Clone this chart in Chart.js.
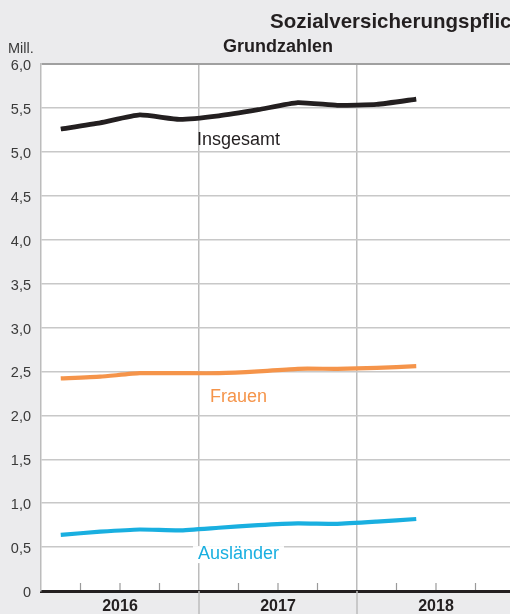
<!DOCTYPE html>
<html>
<head>
<meta charset="utf-8">
<script src="https://cdn.jsdelivr.net/npm/chart.js@4/dist/chart.umd.min.js"></script>
<style>
  html, body { margin: 0; padding: 0; background: #ebebed; overflow: hidden; }
  #wrap { width: 530px; height: 614px; }
</style>
</head>
<body>
<div id="wrap"><canvas id="ChartElem"></canvas></div>
<script>
// quarters shown on the x axis (2016 Q1 .. 2018 Q4), data up to 2018 Q2
var quarters = ['2016 Q1', '2016 Q2', '2016 Q3', '2016 Q4',
                '2017 Q1', '2017 Q2', '2017 Q3', '2017 Q4',
                '2018 Q1', '2018 Q2', '2018 Q3', '2018 Q4'];
var years = ['2016', '2017', '2018'];

// Mill.
var insgesamt  = [5.26, 5.33, 5.42, 5.37, 5.41, 5.48, 5.56, 5.53, 5.54, 5.60];
var frauen     = [2.42, 2.44, 2.48, 2.48, 2.48, 2.50, 2.53, 2.53, 2.54, 2.56];
var auslaender = [0.64, 0.675, 0.70, 0.69, 0.72, 0.75, 0.77, 0.765, 0.79, 0.82];

var seriesNames  = ['Insgesamt', 'Frauen', 'Ausländer'];
var seriesColors = ['#231f20', '#f5944a', '#19afe0'];
// where the series names sit (x in quarters, y in Mill.)
var nameX = [5.0, 5.0, 5.0];
var nameY = [5.13, 2.21, 0.42];

var FONT = '"Liberation Sans", Arial, Helvetica, sans-serif';

function toPoints(values) {
    var pts = [];
    for (let i = 0; i < values.length; i++) {
        pts.push({ x: i + 0.5, y: values[i] });
    }
    return pts;
}

var extras = {
    id: 'extras',
    beforeDraw: function (chart) {
        var ctx = chart.ctx, a = chart.chartArea;
        ctx.save();
        ctx.fillStyle = '#ebebed';
        ctx.fillRect(0, 0, chart.width, chart.height);
        ctx.fillStyle = '#ffffff';
        ctx.fillRect(a.left, a.top, a.right - a.left, a.bottom - a.top);
        ctx.restore();
    },
    afterDraw: function (chart) {
        var ctx = chart.ctx, a = chart.chartArea;
        var xs = chart.scales.x, ys = chart.scales.y;
        ctx.save();
        // titles
        ctx.fillStyle = '#231f20';
        ctx.textBaseline = 'alphabetic';
        ctx.textAlign = 'left';
        ctx.font = 'bold 20.5px ' + FONT;
        ctx.fillText('Sozialversicherungspflichtig Beschäftigte', 270, 28);
        ctx.textAlign = 'center';
        ctx.font = 'bold 18px ' + FONT;
        ctx.fillText('Grundzahlen', 278, 52);
        ctx.textAlign = 'left';
        ctx.font = '14.5px ' + FONT;
        ctx.fillStyle = '#3a3a3a';
        ctx.fillText('Mill.', 8, 53);

        // year separators below the axis
        ctx.strokeStyle = '#bcbcbc';
        ctx.lineWidth = 1.5;
        for (let q = 4; q < quarters.length; q += 4) {
            var px = xs.getPixelForValue(q);
            ctx.beginPath();
            ctx.moveTo(px, a.bottom);
            ctx.lineTo(px, chart.height);
            ctx.stroke();
        }
        // quarter ticks inside the plot
        ctx.strokeStyle = '#9a9a9a';
        ctx.lineWidth = 1.2;
        for (let q = 1; q < quarters.length; q++) {
            if (q % 4 === 0) continue;
            var qx = xs.getPixelForValue(q);
            ctx.beginPath();
            ctx.moveTo(qx, a.bottom - 1);
            ctx.lineTo(qx, a.bottom - 8);
            ctx.stroke();
        }

        // series names
        ctx.font = '18px ' + FONT;
        ctx.textAlign = 'center';
        ctx.textBaseline = 'middle';
        for (let i = 0; i < seriesNames.length; i++) {
            var lx = xs.getPixelForValue(nameX[i]);
            var ly = ys.getPixelForValue(nameY[i]);
            if (i === 2) {
                var w = ctx.measureText(seriesNames[i]).width;
                ctx.fillStyle = '#ffffff';
                ctx.fillRect(lx - w / 2 - 5, ly - 8, w + 10, 17);
            }
            ctx.fillStyle = seriesColors[i];
            ctx.fillText(seriesNames[i], lx, ly);
        }
        ctx.restore();
    }
};

var chartContext = document.getElementById('ChartElem').getContext('2d');
var allSeries = [insgesamt, frauen, auslaender];
var datasets = [];
for (let i = 0; i < allSeries.length; i++) {
    datasets.push({
        label: seriesNames[i],
        data: toPoints(allSeries[i]),
        borderColor: seriesColors[i],
        borderWidth: i === 0 ? 4.8 : 4.2,
        pointRadius: 0,
        tension: 0.15,
        borderCapStyle: 'butt',
        fill: false
    });
}

var chart = new Chart(chartContext, {
    type: 'line',
    data: { datasets: datasets },
    options: {
        responsive: true,
        maintainAspectRatio: false,
        animation: false,
        layout: { padding: { top: 64, right: 15, left: 0, bottom: 0 } },
        plugins: {
            legend: { display: false },
            tooltip: { enabled: false }
        },
        scales: {
            x: {
                type: 'linear',
                min: 0,
                max: quarters.length,
                afterFit: function (scale) { scale.height = 23; },
                afterBuildTicks: function (scale) {
                    var t = [];
                    for (let q = 0; q <= quarters.length; q++) t.push({ value: q });
                    scale.ticks = t;
                },
                ticks: {
                    autoSkip: false,
                    maxRotation: 0,
                    padding: 8,
                    color: '#231f20',
                    font: { family: FONT, size: 16, weight: 'bold', lineHeight: 1 },
                    callback: function (v) {
                        return v % 4 === 2 ? years[(v - 2) / 4] : '';
                    }
                },
                grid: {
                    drawTicks: false,
                    lineWidth: 1.5,
                    color: function (c) {
                        var v = c.tick ? c.tick.value : 0;
                        return (v % 4 === 0 && v > 0 && v < quarters.length) ? '#bcbcbc' : 'rgba(0,0,0,0)';
                    }
                },
                border: { color: '#231f20', width: 3 }
            },
            y: {
                min: 0,
                max: 6,
                afterFit: function (scale) { scale.width = 41; },
                ticks: {
                    stepSize: 0.5,
                    padding: 10,
                    labelOffset: 2,
                    color: '#3a3a3a',
                    font: { family: FONT, size: 14.5 },
                    callback: function (v) {
                        return v === 0 ? '0' : v.toFixed(1).replace('.', ',');
                    }
                },
                grid: {
                    drawTicks: false,
                    lineWidth: function (c) { return c.tick && c.tick.value === 6 ? 2 : 1.5; },
                    color: function (c) {
                        var v = c.tick ? c.tick.value : 0;
                        if (v === 0) return 'rgba(0,0,0,0)';
                        return v === 6 ? '#a0a0a0' : '#c8c8c8';
                    }
                },
                border: { color: '#bcbcbc', width: 1.5 }
            }
        }
    },
    plugins: [extras]
});
</script>
</body>
</html>
